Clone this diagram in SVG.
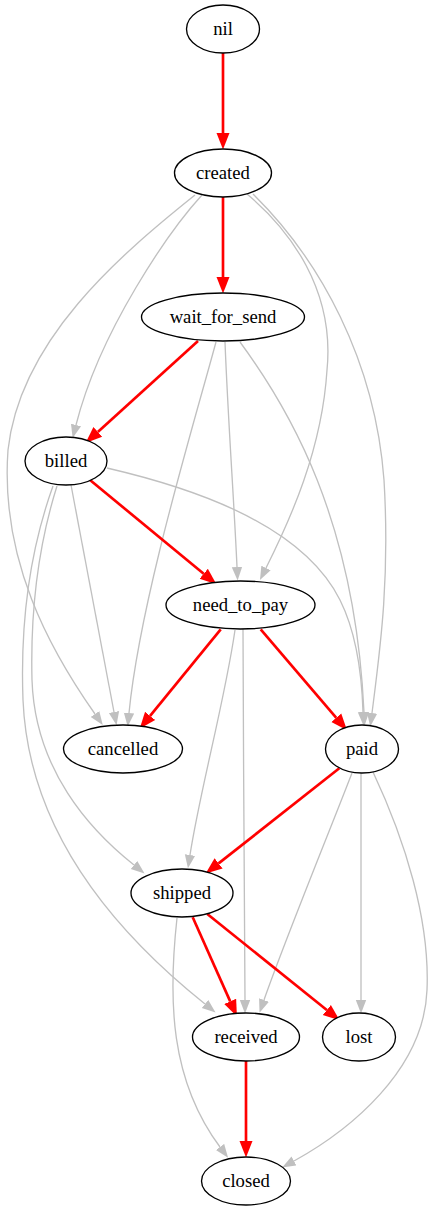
<svg xmlns="http://www.w3.org/2000/svg" width="433" height="1211" viewBox="0 0 433 1211">
<style>
.node ellipse{fill:#ffffff;stroke:#000000;stroke-width:1.33}
.node text{font-family:"Liberation Serif","Times New Roman",serif;font-size:18.67px;text-anchor:middle;fill:#000000}
.red{fill:none;stroke:#ff0000;stroke-width:2.67;marker-end:url(#ar)}
.gray{fill:none;stroke:#c0c0c0;stroke-width:1.33;marker-end:url(#ag)}
</style>
<defs>
<marker id="ar" markerUnits="userSpaceOnUse" viewBox="0 -8 18 16" markerWidth="18" markerHeight="16" refX="0" refY="0" orient="auto">
<polygon points="0,-6.5 16.5,0 0,6.5" fill="#ff0000"/>
</marker>
<marker id="ag" markerUnits="userSpaceOnUse" viewBox="0 -6 15 12" markerWidth="15" markerHeight="12" refX="0" refY="0" orient="auto">
<polygon points="0,-5.2 13.5,0 0,5.2" fill="#c0c0c0"/>
</marker>
</defs>
<rect width="433" height="1211" fill="#ffffff"/>
<g id="connectors">
<path class="gray" d="M202,195 C170,230 100,330 76,425"/>
<path class="gray" d="M195,195 C120,255 20,340 8,450 C0,560 50,650 95,714"/>
<path class="gray" d="M247,194 C290,230 335,290 327,370 C322,450 290,520 266,568"/>
<path class="gray" d="M253,194 C320,260 375,360 384,480 C390,580 380,650 372,713"/>
<path class="gray" d="M216,342 C195,420 140,600 129,713"/>
<path class="gray" d="M225,342 C228,420 234,500 237,567"/>
<path class="gray" d="M240,342 C290,410 355,520 364,712"/>
<path class="gray" d="M71,485 L114,712"/>
<path class="gray" d="M107,468 C180,485 300,520 340,600 C357,634 362,680 363,712"/>
<path class="gray" d="M57,486 C40,540 30,600 32,680 C35,770 90,830 134,865"/>
<path class="gray" d="M53,486 C30,550 20,620 23,700 C28,820 100,920 205,1004"/>
<path class="gray" d="M235,630 C225,700 200,790 190,855"/>
<path class="gray" d="M243,629 C243,750 245,900 245,1000"/>
<path class="gray" d="M352,773 C330,830 285,940 264,1000"/>
<path class="gray" d="M361,773 L361,1000"/>
<path class="gray" d="M373,772 C405,840 430,920 427,990 C424,1070 350,1130 294,1161"/>
<path class="gray" d="M177,918 C168,1000 170,1080 220,1147"/>
<path class="red" d="M223,53 L223,133"/>
<path class="red" d="M223,197 L223,277"/>
<path class="red" d="M198,341 L97.8,431.9"/>
<path class="red" d="M90,480 L203.7,573.8"/>
<path class="red" d="M220.7,629.3 L150.1,715.9"/>
<path class="red" d="M260.7,629.3 L336.3,717.8"/>
<path class="red" d="M339.3,768.3 L218.6,863.4"/>
<path class="red" d="M192.7,917.3 L230.2,1001.4"/>
<path class="red" d="M207.3,914 L326.8,1010"/>
<path class="red" d="M246,1061 L246,1141"/>
</g>
<g id="nil" class="node"><ellipse cx="223" cy="29" rx="36.5" ry="24"/><text x="223" y="35">nil</text></g>
<g id="created" class="node"><ellipse cx="223" cy="173" rx="48.5" ry="24"/><text x="223" y="179">created</text></g>
<g id="wait_for_send" class="node"><ellipse cx="223" cy="317" rx="81.5" ry="24"/><text x="223" y="323">wait_for_send</text></g>
<g id="billed" class="node"><ellipse cx="66" cy="461" rx="41" ry="24"/><text x="66" y="467">billed</text></g>
<g id="need_to_pay" class="node"><ellipse cx="240.5" cy="605" rx="74.5" ry="24"/><text x="240.5" y="611">need_to_pay</text></g>
<g id="cancelled" class="node"><ellipse cx="123" cy="749" rx="59.5" ry="24"/><text x="123" y="755">cancelled</text></g>
<g id="paid" class="node"><ellipse cx="362" cy="749" rx="36.5" ry="24"/><text x="362" y="755">paid</text></g>
<g id="shipped" class="node"><ellipse cx="182" cy="893" rx="51" ry="24"/><text x="182" y="899">shipped</text></g>
<g id="received" class="node"><ellipse cx="246" cy="1037" rx="53.5" ry="24"/><text x="246" y="1043">received</text></g>
<g id="lost" class="node"><ellipse cx="359" cy="1037" rx="36.5" ry="24"/><text x="359" y="1043">lost</text></g>
<g id="closed" class="node"><ellipse cx="246" cy="1181" rx="44.5" ry="24"/><text x="246" y="1187">closed</text></g>
</svg>
